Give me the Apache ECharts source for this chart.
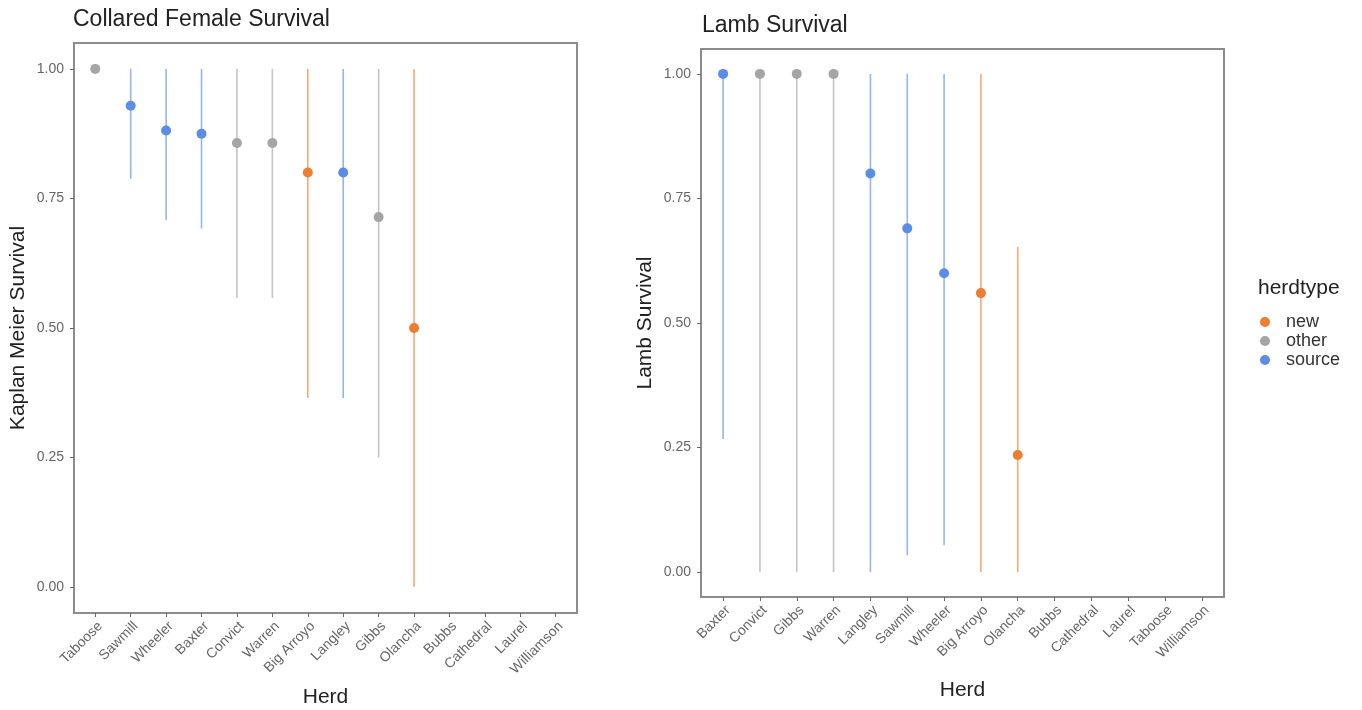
<!DOCTYPE html>
<html>
<head>
<meta charset="utf-8">
<script src="https://cdn.jsdelivr.net/npm/echarts@6/dist/echarts.min.js"></script>
<style>
  html, body { margin: 0; padding: 0; background: #fff; }
  #main { width: 1362px; height: 710px; }
</style>
</head>
<body>
<div id="main"></div>
<script>
// collared females (Kaplan Meier)
var herdsF = ['Taboose','Sawmill','Wheeler','Baxter','Convict','Warren','Big Arroyo','Langley','Gibbs','Olancha','Bubbs','Cathedral','Laurel','Williamson'];
var survF  = [1.00, 0.929, 0.881, 0.875, 0.857, 0.857, 0.80, 0.80, 0.714, 0.50];
var lowF   = [1.00, 0.788, 0.708, 0.692, 0.558, 0.558, 0.365, 0.365, 0.25, 0.00];
var highF  = [1.00, 1.00, 1.00, 1.00, 1.00, 1.00, 1.00, 1.00, 1.00, 1.00];
var typeF  = ['other','source','source','source','other','other','new','source','other','new'];

// lambs
var herdsL = ['Baxter','Convict','Gibbs','Warren','Langley','Sawmill','Wheeler','Big Arroyo','Olancha','Bubbs','Cathedral','Laurel','Taboose','Williamson'];
var survL  = [1.00, 1.00, 1.00, 1.00, 0.80, 0.69, 0.60, 0.56, 0.235];
var lowL   = [0.267, 0.00, 0.00, 0.00, 0.00, 0.034, 0.054, 0.00, 0.00];
var highL  = [1.00, 1.00, 1.00, 1.00, 1.00, 1.00, 1.00, 1.00, 0.653];
var typeL  = ['source','other','other','other','source','source','source','new','new'];

var herdTypes = ['new','other','source'];
var yTicks = [0, 0.25, 0.5, 0.75, 1];

var typeColor = {new:'#ED7D31', other:'#A5A5A5', source:'#5B8DE6'};
var FONT = 'Liberation Sans';

var myChart = echarts.init(document.getElementById('main'));

// discrete x scale like ggplot: positions 0..n-1, padded by 0.6 each side
function xAxisFor(idx, herds, gap){
    var pos = herds.map(function(h, i){ return i; });
    return {
        type:'value', gridIndex:idx, min:-0.6, max:herds.length - 0.4,
        name:'Herd', nameLocation:'middle', nameGap:gap,
        nameTextStyle:{fontSize:21, color:'#222', fontFamily:FONT},
        axisLine:{show:false, onZero:false},
        axisTick:{show:true, length:4, lineStyle:{color:'#666'}, customValues:pos},
        axisLabel:{rotate:45, fontSize:14, color:'#666', margin:6, fontFamily:FONT,
            align:'right', verticalAlign:'top', customValues:pos,
            formatter:function(v){ return herds[Math.round(v)]; }},
        splitLine:{show:false}
    };
}
function yAxisFor(idx, title){
    return {
        type:'value', gridIndex:idx, min:-0.05, max:1.05,
        name:title, nameLocation:'middle', nameGap:45,
        nameTextStyle:{fontSize:21, color:'#222', fontFamily:FONT},
        axisLine:{show:false, onZero:false},
        axisTick:{show:true, length:4, lineStyle:{color:'#666'}, customValues:yTicks},
        axisLabel:{fontSize:14, color:'#666', margin:10, customValues:yTicks, fontFamily:FONT,
            formatter:function(v){ return v.toFixed(2); }},
        splitLine:{show:false}
    };
}

function errorSeries(idx, low, high, types){
    var data = [];
    for (var i=0;i<low.length;i++){
        data.push([i, low[i], high[i], herdTypes.indexOf(types[i])]);
    }
    return {
        type:'custom', name:'ci'+idx, xAxisIndex:idx, yAxisIndex:idx,
        encode:{x:0, y:[1,2]},
        data:data, silent:true, z:1,
        renderItem:function(params, api){
            var p1 = api.coord([api.value(0), api.value(1)]);
            var p2 = api.coord([api.value(0), api.value(2)]);
            return {
                type:'line',
                shape:{x1:p1[0], y1:p1[1], x2:p2[0], y2:p2[1]},
                style:{stroke:typeColor[herdTypes[api.value(3)]], lineWidth:1.6, opacity:0.65}
            };
        }
    };
}

function pointSeries(idx, surv, types){
    var out = [];
    herdTypes.forEach(function(t){
        var d = [];
        for (var i=0;i<surv.length;i++){
            if (types[i]==t) d.push([i, surv[i]]);
        }
        out.push({
            type:'scatter', name:t, xAxisIndex:idx, yAxisIndex:idx,
            data:d, symbolSize:10, z:3,
            itemStyle:{color:typeColor[t], opacity:1}
        });
    });
    return out;
}

var option = {
    backgroundColor:'#fff',
    animation:false,
    title:[
        {text:'Collared Female Survival', left:68, top:3,
         textStyle:{fontSize:23, fontWeight:'normal', color:'#222', fontFamily:FONT}},
        {text:'Lamb Survival', left:697, top:9,
         textStyle:{fontSize:23, fontWeight:'normal', color:'#222', fontFamily:FONT}},
        {text:'herdtype', left:1253, top:273,
         textStyle:{fontSize:21, fontWeight:'normal', color:'#222', fontFamily:FONT}}
    ],
    legend:{
        data:herdTypes, orient:'vertical', left:1260, top:313, padding:0,
        icon:'circle', itemWidth:32, itemHeight:10, itemGap:1,
        textStyle:{fontSize:18, lineHeight:18, color:'#333', fontFamily:FONT}
    },
    grid:[
        {left:74, right:1362-577, top:43, bottom:710-613, show:true, borderColor:'#8c8c8c', borderWidth:2,
         backgroundColor:'#fff', containLabel:false, outerBoundsMode:'none'},
        {left:701, right:1362-1224, top:49, bottom:710-597, show:true, borderColor:'#8c8c8c', borderWidth:2,
         backgroundColor:'#fff', containLabel:false, outerBoundsMode:'none'}
    ],
    xAxis:[xAxisFor(0, herdsF, 74), xAxisFor(1, herdsL, 83)],
    yAxis:[yAxisFor(0, 'Kaplan Meier Survival'), yAxisFor(1, 'Lamb Survival')],
    series:[errorSeries(0, lowF, highF, typeF), errorSeries(1, lowL, highL, typeL)]
        .concat(pointSeries(0, survF, typeF))
        .concat(pointSeries(1, survL, typeL))
};
myChart.setOption(option);
</script>
</body>
</html>
